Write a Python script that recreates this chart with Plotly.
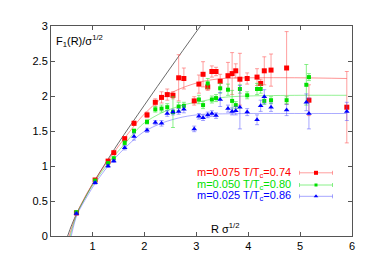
import plotly.graph_objects as go

# ---------------- data ----------------
red_x = [0.69, 1.05, 1.30, 1.41, 1.62, 1.80, 2.05, 2.21, 2.33, 2.44, 2.55, 2.66, 2.76, 2.96, 3.05,
         3.13, 3.22, 3.30, 3.38, 3.46, 3.61, 3.69, 3.76, 3.84, 3.98, 4.17, 4.24, 4.31, 4.44, 4.74,
         5.17, 5.90]
red_y = [0.33, 0.80, 1.07, 1.19, 1.39, 1.61, 1.73, 1.91, 1.98, 2.02, 2.01, 2.26, 2.25, 1.93, 2.17,
         2.31, 2.13, 2.35, 2.35, 2.21, 2.29, 2.32, 2.36, 2.24, 2.25, 2.27, 2.18, 2.36, 2.37, 2.40,
         1.94, 1.84]
red_e = [0.02, 0.02, 0.02, 0.02, 0.03, 0.03, 0.04, 0.05, 0.08, 0.08, 0.05, 0.33, 0.15, 0.06, 0.13,
         0.18, 0.05, 0.08, 0.06, 0.10, 0.19, 0.30, 0.10, 0.37, 0.08, 0.12, 0.06, 0.20, 0.23, 0.52,
         0.22, 0.51]

green_x = [0.69, 1.05, 1.30, 1.41, 1.62, 1.80, 2.05, 2.21, 2.33, 2.44, 2.55, 2.66, 2.76, 3.05, 3.13,
           3.22, 3.30, 3.38, 3.46, 3.61, 3.69, 3.76, 3.84, 3.98, 4.17, 4.24, 4.31, 4.44, 4.74, 5.12,
           5.17]
green_y = [0.34, 0.79, 1.04, 1.11, 1.33, 1.50, 1.63, 1.81, 1.82, 1.84, 1.77, 1.85, 1.86, 1.95, 1.87,
           2.18, 1.95, 1.97, 2.11, 2.09, 1.93, 1.87, 2.10, 2.01, 2.10, 2.10, 1.93, 1.94, 1.94, 2.16,
           2.27]
green_e = [0.02, 0.02, 0.02, 0.02, 0.03, 0.03, 0.03, 0.04, 0.05, 0.05, 0.22, 0.06, 0.05, 0.06, 0.05,
           0.07, 0.05, 0.05, 0.07, 0.08, 0.15, 0.05, 0.06, 0.05, 0.08, 0.06, 0.05, 0.05, 0.05, 0.29,
           0.05]

blue_x = [0.69, 1.05, 1.30, 1.41, 1.62, 1.80, 2.05, 2.21, 2.33, 2.44, 2.55, 2.66, 2.76, 2.96, 3.05,
          3.13, 3.22, 3.30, 3.38, 3.46, 3.61, 3.69, 3.76, 3.84, 3.98, 4.17, 4.24, 4.31, 4.44, 4.74,
          5.12, 5.17, 5.90]
blue_y = [0.32, 0.76, 1.00, 1.07, 1.26, 1.42, 1.51, 1.62, 1.61, 1.75, 1.77, 1.78, 1.81, 1.53, 1.71,
          1.69, 1.73, 1.75, 1.72, 1.95, 1.82, 1.78, 1.79, 1.84, 1.77, 1.66, 1.86, 1.99, 1.84, 1.80,
          1.91, 1.75, 1.78]
blue_e = [0.02, 0.02, 0.02, 0.02, 0.03, 0.05, 0.03, 0.03, 0.04, 0.04, 0.04, 0.04, 0.05, 0.04, 0.04,
          0.04, 0.04, 0.04, 0.04, 0.10, 0.05, 0.05, 0.06, 0.31, 0.05, 0.07, 0.08, 0.10, 0.06, 0.08,
          0.12, 0.22, 0.13]

# fitted curves
fit_red_x = [0.55, 0.70, 0.90, 1.05, 1.30, 1.60, 1.97, 2.36, 2.74, 3.13, 3.51, 4.00, 5.00, 5.90]
fit_red_y = [0.00, 0.33, 0.62, 0.80, 1.08, 1.38, 1.72, 1.98, 2.12, 2.21, 2.25, 2.26, 2.26, 2.25]
fit_green_x = [0.57, 0.70, 0.90, 1.05, 1.30, 1.60, 1.97, 2.36, 2.74, 3.13, 3.51, 4.00, 5.00, 5.90]
fit_green_y = [0.00, 0.32, 0.60, 0.78, 1.04, 1.30, 1.60, 1.77, 1.87, 1.93, 1.98, 2.00, 2.01, 2.01]
fit_blue_x = [0.59, 0.70, 0.90, 1.05, 1.30, 1.60, 1.97, 2.36, 2.74, 3.13, 3.51, 4.00, 5.00, 5.90]
fit_blue_y = [0.00, 0.30, 0.57, 0.75, 1.00, 1.24, 1.48, 1.62, 1.70, 1.74, 1.745, 1.75, 1.75, 1.75]

# black curve
black_x = [0.52, 0.60, 0.70, 0.80, 1.00, 1.25, 1.50, 2.00, 2.50, 3.08]
black_y = [0.00, 0.16, 0.33, 0.47, 0.74, 1.04, 1.33, 1.87, 2.40, 3.00]

labels = ["m=0.075 T/T<sub>c</sub>=0.74", "m=0.050 T/T<sub>c</sub>=0.80", "m=0.025 T/T<sub>c</sub>=0.86"]

# ---------------- styles / layout ----------------
FONT = "Liberation Sans, Arial, Helvetica, sans-serif"
X_RANGE = [0.2, 6.0]
Y_RANGE = [0.0, 3.0]
colors = ["#ff0000", "#00e000", "#0000ff"]
err_colors = ["rgba(255,80,80,0.55)", "rgba(60,230,60,0.6)", "rgba(80,80,255,0.5)"]
fit_colors = ["rgba(255,60,60,0.55)", "rgba(60,230,60,0.55)", "rgba(90,90,255,0.5)"]
symbols = ["square", "square", "triangle-up"]
sizes = [5, 4, 5]

fig = go.Figure()

fig.add_trace(go.Scatter(x=black_x, y=black_y, mode="lines",
                         line=dict(color="#444444", width=0.8, shape="spline"),
                         showlegend=False, hoverinfo="skip"))

fits = [(fit_red_x, fit_red_y), (fit_green_x, fit_green_y), (fit_blue_x, fit_blue_y)]
for (fx, fy), c in zip(fits, fit_colors):
    fig.add_trace(go.Scatter(x=fx, y=fy, mode="lines",
                             line=dict(color=c, width=1, shape="spline", smoothing=0.8),
                             showlegend=False, hoverinfo="skip"))

series = [(red_x, red_y, red_e), (green_x, green_y, green_e), (blue_x, blue_y, blue_e)]
for i, (sx, sy, se) in enumerate(series):
    fig.add_trace(go.Scatter(x=sx, y=sy, mode="markers",
                             marker=dict(symbol=symbols[i], size=sizes[i], color=colors[i],
                                         line=dict(width=0)),
                             error_y=dict(type="data", array=se, visible=True,
                                          color=err_colors[i], thickness=1, width=2),
                             showlegend=False))

# legend keys (gnuplot style: text on the left, sample on the right)
LEG_TEXT_PX = 285
LEG_KEY_PX = 308
LEG_KEY_HALF_PX = 16.5
LEG_ROWS_PY = [165.7, 178.3, 190.0]
PLOT_L, PLOT_R, PLOT_T, PLOT_B = 43, 344, 14, 231


def px_to_x(px):
    return X_RANGE[0] + (px - PLOT_L) / (PLOT_R - PLOT_L) * (X_RANGE[1] - X_RANGE[0])


def py_to_y(py):
    return Y_RANGE[0] + (PLOT_B - py) / (PLOT_B - PLOT_T) * (Y_RANGE[1] - Y_RANGE[0])


half = px_to_x(LEG_KEY_PX + LEG_KEY_HALF_PX) - px_to_x(LEG_KEY_PX)
annotations = []
for i, py in enumerate(LEG_ROWS_PY):
    fig.add_trace(go.Scatter(x=[px_to_x(LEG_KEY_PX)], y=[py_to_y(py)], mode="markers",
                             marker=dict(symbol=symbols[i], size=sizes[i] - 1, color=colors[i],
                                         line=dict(width=0)),
                             error_x=dict(type="constant", value=half, visible=True,
                                          color=err_colors[i], thickness=1, width=2),
                             showlegend=False, hoverinfo="skip"))
    annotations.append(dict(x=px_to_x(LEG_TEXT_PX), y=py_to_y(py), xref="x", yref="y",
                            text=labels[i], showarrow=False, xanchor="right", yanchor="middle",
                            font=dict(family=FONT, size=11, color=colors[i])))

annotations.append(dict(x=(46 - PLOT_L) / (PLOT_R - PLOT_L), y=(PLOT_B - 29) / (PLOT_B - PLOT_T),
                        xref="paper", yref="paper", text="F<sub>1</sub>(R)/σ<sup>1/2</sup>",
                        showarrow=False, xanchor="left", yanchor="middle",
                        font=dict(family=FONT, size=11, color="black")))
annotations.append(dict(x=(201 - PLOT_L) / (PLOT_R - PLOT_L), y=(PLOT_B - 223) / (PLOT_B - PLOT_T),
                        xref="paper", yref="paper", text="R σ<sup>1/2</sup>",
                        showarrow=False, xanchor="left", yanchor="middle",
                        font=dict(family=FONT, size=11, color="black")))

axis_common = dict(showline=True, linecolor="#555555", linewidth=1, mirror="ticks",
                   ticks="inside", ticklen=4, tickcolor="#555555", showgrid=False,
                   zeroline=False, tickfont=dict(family=FONT, size=11, color="black"))

fig.update_layout(
    width=365, height=256,
    margin=dict(l=PLOT_L, r=365 - PLOT_R, t=PLOT_T, b=256 - PLOT_B),
    paper_bgcolor="white", plot_bgcolor="white",
    xaxis=dict(range=X_RANGE, tick0=0, dtick=1, **axis_common),
    yaxis=dict(range=Y_RANGE, tick0=0, dtick=0.5, **axis_common),
    annotations=annotations,
    showlegend=False,
)

fig.write_html("out.html")
